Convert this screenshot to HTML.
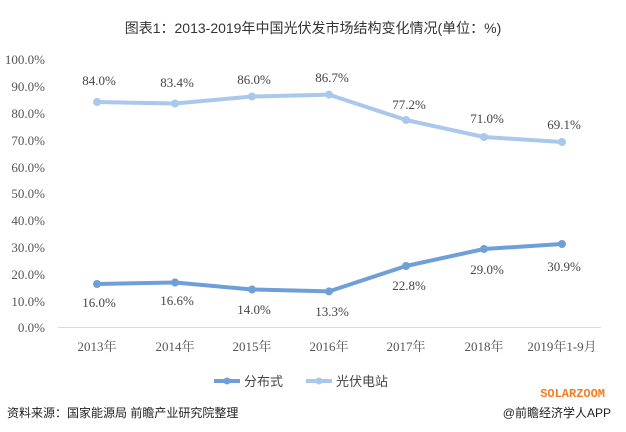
<!DOCTYPE html>
<html><head><meta charset="utf-8"><style>
body{margin:0;background:#fff;}
svg text{font-family:"Liberation Serif","Noto Serif CJK SC",serif;}
</style></head><body>
<svg width="626" height="427" xmlns="http://www.w3.org/2000/svg">
<rect width="626" height="427" fill="#fff"/>
<text x="313" y="33" text-anchor="middle" font-size="14" fill="#333" style="font-family:'Liberation Sans','Noto Sans CJK SC',sans-serif">图表1：2013-2019年中国光伏发市场结构变化情况(单位：%)</text>
<g font-size="13" fill="#555" text-anchor="end">
<text x="45" y="64">100.0%</text><text x="45" y="91">90.0%</text><text x="45" y="118">80.0%</text>
<text x="45" y="145">70.0%</text><text x="45" y="172">60.0%</text><text x="45" y="198">50.0%</text>
<text x="45" y="225">40.0%</text><text x="45" y="252">30.0%</text><text x="45" y="279">20.0%</text>
<text x="45" y="306">10.0%</text><text x="45" y="332">0.0%</text>
</g>
<line x1="58" y1="327.5" x2="601" y2="327.5" stroke="#d9d9d9"/>
<g font-size="13" fill="#555" text-anchor="middle" style="font-family:'Liberation Serif','Noto Sans CJK SC',serif">
<text x="97" y="351">2013年</text><text x="175" y="351">2014年</text><text x="252" y="351">2015年</text>
<text x="329" y="351">2016年</text><text x="406" y="351">2017年</text><text x="484" y="351">2018年</text>
<text x="562" y="351">2019年1-9月</text>
</g>
<polyline points="97,102 175,103.5 252,96.5 329,94.6 406,120 484,137 562,142" fill="none" stroke="#a9c8ec" stroke-width="4" stroke-linejoin="round"/>
<g fill="#a9c8ec"><circle cx="97" cy="102" r="4"/><circle cx="175" cy="103.5" r="4"/><circle cx="252" cy="96.5" r="4"/><circle cx="329" cy="94.6" r="4"/><circle cx="406" cy="120" r="4"/><circle cx="484" cy="137" r="4"/><circle cx="562" cy="142" r="4"/></g>
<polyline points="97,284 175,282.5 252,289.5 329,291.4 406,266 484,249 562,244" fill="none" stroke="#6f9fd8" stroke-width="4" stroke-linejoin="round"/>
<g fill="#6f9fd8"><circle cx="97" cy="284" r="4"/><circle cx="175" cy="282.5" r="4"/><circle cx="252" cy="289.5" r="4"/><circle cx="329" cy="291.4" r="4"/><circle cx="406" cy="266" r="4"/><circle cx="484" cy="249" r="4"/><circle cx="562" cy="244" r="4"/></g>
<g font-size="13" fill="#444" text-anchor="middle">
<text x="99" y="85">84.0%</text><text x="177" y="87">83.4%</text><text x="254" y="84">86.0%</text><text x="332" y="82">86.7%</text>
<text x="409" y="109">77.2%</text><text x="487" y="123">71.0%</text><text x="564" y="129">69.1%</text>
</g>
<g font-size="13" fill="#444" text-anchor="middle">
<text x="99" y="307">16.0%</text><text x="177" y="305">16.6%</text><text x="254" y="314">14.0%</text><text x="332" y="316">13.3%</text>
<text x="409" y="290">22.8%</text><text x="487" y="274">29.0%</text><text x="564" y="271">30.9%</text>
</g>
<line x1="214" y1="381" x2="240" y2="381" stroke="#6f9fd8" stroke-width="4"/><circle cx="227" cy="381" r="3.5" fill="#6f9fd8"/>
<text x="244" y="386" font-size="13" fill="#444" style="font-family:'Liberation Sans','Noto Sans CJK SC',sans-serif">分布式</text>
<line x1="306" y1="381" x2="332" y2="381" stroke="#a9c8ec" stroke-width="4"/><circle cx="319" cy="381" r="3.5" fill="#a9c8ec"/>
<text x="336" y="386" font-size="13" fill="#444" style="font-family:'Liberation Sans','Noto Sans CJK SC',sans-serif">光伏电站</text>
<text x="605" y="397" text-anchor="end" font-size="12" font-weight="bold" fill="#f47a20" style="font-family:'Liberation Mono',monospace">SOLARZOOM</text>
<text x="7" y="417" font-size="12" fill="#222" style="font-family:'Liberation Sans','Noto Sans CJK SC',sans-serif">资料来源：国家能源局 前瞻产业研究院整理</text>
<text x="611" y="417" text-anchor="end" font-size="12" fill="#222" style="font-family:'Liberation Sans','Noto Sans CJK SC',sans-serif">@前瞻经济学人APP</text>
</svg>
</body></html>
